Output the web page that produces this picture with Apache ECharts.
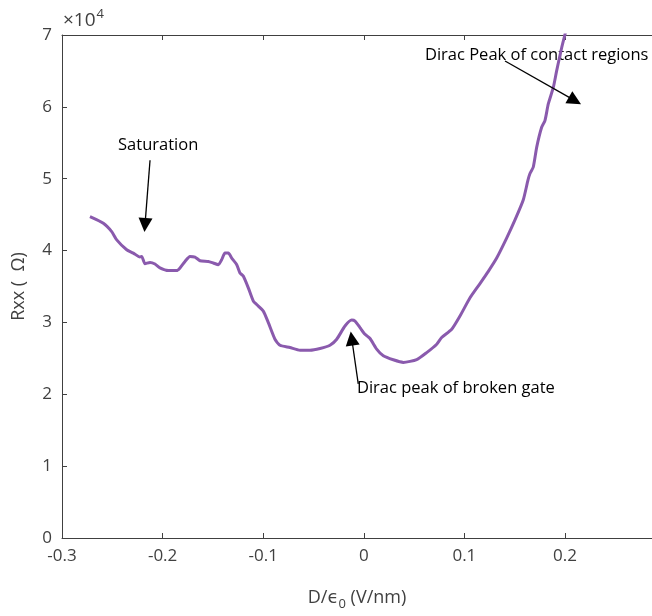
<!DOCTYPE html>
<html>
<head>
<meta charset="utf-8">
<script src="https://cdn.jsdelivr.net/npm/echarts@6/dist/echarts.min.js"></script>
<style>
  html, body { margin: 0; padding: 0; background: #fff; }
  #main { width: 652px; height: 616px; }
</style>
</head>
<body>
<div id="main"></div>
<script>
// D/eps0 (V/nm)
const dField = [
  -0.2722, -0.2589, -0.2506, -0.2456, -0.2357, -0.2291, -0.2225, -0.2208, -0.2175, -0.2125,
  -0.2076, -0.2026, -0.1943, -0.1860, -0.1827, -0.1777, -0.1728, -0.1678, -0.1628, -0.1546,
  -0.1496, -0.1446, -0.1413, -0.1380, -0.1347, -0.1313, -0.1263, -0.1231, -0.1198, -0.1148,
  -0.1098, -0.1065, -0.0999, -0.0949, -0.0883, -0.0833, -0.0734, -0.0634, -0.0535, -0.0435,
  -0.0336, -0.0269, -0.0187, -0.0120, -0.0087, -0.0038, 0.0012, 0.0062, 0.0128, 0.0194,
  0.0293, 0.0393, 0.0526, 0.0625, 0.0725, 0.0774, 0.0874, 0.0956, 0.1056, 0.1155,
  0.1238, 0.1321, 0.1420, 0.1503, 0.1585, 0.1632, 0.1652, 0.1685, 0.1719, 0.1768,
  0.1801, 0.1834, 0.1884, 0.1917, 0.1967, 0.2000, 0.2020
]
// Rxx (Ohm)
const rxx = [
  44720, 43800, 42640, 41490, 40110, 39650, 39100, 39180, 38170, 38350,
  38130, 37580, 37210, 37210, 37580, 38490, 39180, 39100, 38590, 38490,
  38270, 38040, 38730, 39650, 39650, 38960, 38040, 36890, 36450, 34810,
  32960, 32500, 31580, 29970, 27660, 26830, 26510, 26140, 26140, 26380,
  26830, 27660, 29500, 30330, 30190, 29280, 28350, 27760, 26280, 25350,
  24800, 24440, 24830, 25800, 26970, 27900, 29050, 30880, 33430, 35410,
  37110, 38960, 41730, 44260, 47030, 49790, 50720, 51630, 54400, 57160,
  58090, 60400, 62700, 65010, 68230, 70080, 71200
]
const yTicks = [0, 1, 2, 3, 4, 5, 6, 7]

// annotation arrows: [tail, tip] in data units
const arrows = [
  [[-0.2125, 52560], [-0.2175, 43570]],
  [[-0.0055, 21440], [-0.0120, 27760]],
  [[0.1404, 66390], [0.2099, 60860]]
]
const notes = [
  { text: 'Saturation', at: [-0.2443, 54630] },
  { text: 'Dirac peak of broken gate', at: [-0.0068, 20750] },
  { text: 'Dirac Peak of contact regions', at: [0.0608, 67080] }
]

const axisColor = '#404040'
const font = '"Open Sans", "DejaVu Sans", sans-serif'

let chart = echarts.init(document.getElementById('main'))
chart.setOption({
  animation: false,
  textStyle: { fontFamily: font },
  grid: { left: 62, right: 0, top: 35, bottom: 75, containLabel: false },
  xAxis: [{
    type: 'value',
    min: -0.3,
    max: 0.2865,
    interval: 0.1,
    position: 'bottom',
    axisLine: { show: true, onZero: false, lineStyle: { color: axisColor, width: 1 } },
    axisTick: { show: true, inside: true, length: 5, lineStyle: { color: axisColor } },
    axisLabel: {
      color: axisColor, fontSize: 17, margin: 10, showMaxLabel: false,
      formatter: v => Math.abs(v) < 1e-9 ? '0' : String(+v.toFixed(1))
    },
    splitLine: { show: false },
    name: '{a|D/ϵ}{s|0}{a| (V/nm)}',
    nameLocation: 'middle',
    nameGap: 46,
    nameTextStyle: {
      rich: {
        a: { fontSize: 18, color: axisColor, fontFamily: font },
        s: { fontSize: 13, color: axisColor, fontFamily: font, padding: [14, 0, 0, 0] }
      }
    }
  }, {
    type: 'value',
    min: -0.3,
    max: 0.2865,
    interval: 0.1,
    position: 'top',
    axisLine: { show: true, onZero: false, lineStyle: { color: axisColor, width: 1 } },
    axisTick: { show: true, inside: true, length: 5, lineStyle: { color: axisColor } },
    axisLabel: { show: false },
    splitLine: { show: false }
  }],
  yAxis: {
    type: 'value',
    min: 0,
    max: 70000,
    interval: 10000,
    axisLine: { show: true, onZero: false, lineStyle: { color: axisColor, width: 1 } },
    axisTick: { show: true, inside: true, length: 5, lineStyle: { color: axisColor } },
    axisLabel: {
      color: axisColor, fontSize: 17, margin: 10,
      formatter: v => String(yTicks[Math.round(v / 10000)])
    },
    splitLine: { show: false },
    name: 'Rxx (  Ω)',
    nameLocation: 'middle',
    nameGap: 34,
    nameTextStyle: { fontSize: 18, color: axisColor }
  },
  series: [{
    type: 'line',
    data: dField.map((x, i) => [x, rxx[i]]),
    showSymbol: false,
    clip: true,
    smooth: 0.2,
    lineStyle: { color: '#8a5aad', width: 3 },
    markLine: {
      silent: true,
      symbol: ['none', 'triangle'],
      symbolSize: [14, 14],
      label: { show: false },
      lineStyle: { color: '#000', width: 1.3, type: 'solid' },
      data: arrows.map(a => [{ coord: a[0] }, { coord: a[1] }])
    }
  }]
})

// text notes and the exponent, placed through the axes
const noteGraphics = notes.map(n => {
  const p = chart.convertToPixel({ xAxisIndex: 0, yAxisIndex: 0 }, n.at)
  return {
    type: 'text', left: p[0], top: p[1] - 9,
    style: { text: n.text, fontSize: 16.5, fill: '#000', fontFamily: font }
  }
})
const corner = chart.convertToPixel({ xAxisIndex: 0, yAxisIndex: 0 }, [-0.3, 70000])
chart.setOption({
  graphic: noteGraphics.concat([{
    type: 'text', left: corner[0] + 1, top: corner[1] - 27,
    style: {
      text: '{a|×10}{b|4}',
      rich: {
        a: { fontSize: 19, fill: axisColor, fontFamily: font },
        b: { fontSize: 13, fill: axisColor, fontFamily: font, padding: [0, 0, 13, 1] }
      }
    }
  }])
})
</script>
</body>
</html>
